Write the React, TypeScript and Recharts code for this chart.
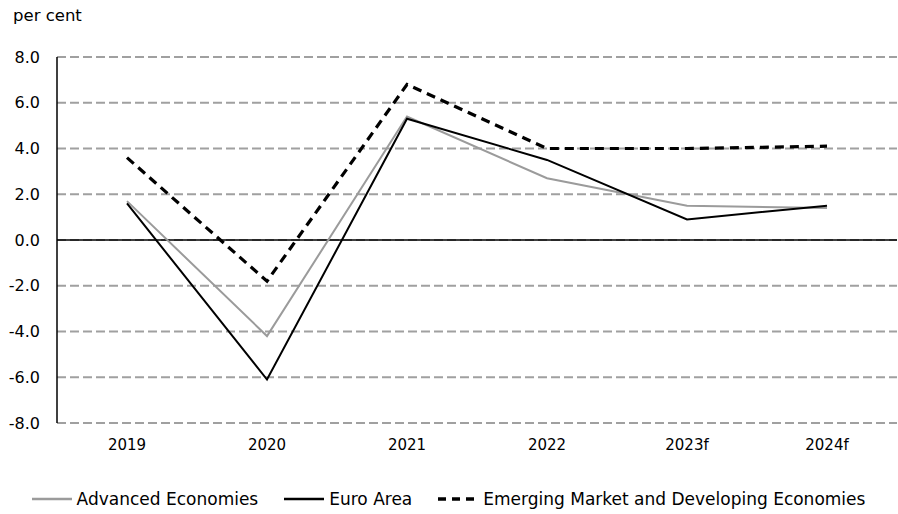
import { LineChart, Line, XAxis, YAxis, CartesianGrid, ReferenceLine, Legend } from "recharts";

const years = ["2019", "2020", "2021", "2022", "2023f", "2024f"];
const advanced = [1.7, -4.2, 5.4, 2.7, 1.5, 1.4];
const euroArea = [1.6, -6.1, 5.3, 3.5, 0.9, 1.5];
const emerging = [3.6, -1.8, 6.8, 4.0, 4.0, 4.1];
const yTicks = [-8, -6, -4, -2, 0, 2, 4, 6, 8];

const SERIES = [
  { key: "advanced", name: "Advanced Economies", color: "#9b9b9b", width: 2, dash: undefined as string | undefined },
  { key: "euro", name: "Euro Area", color: "#000000", width: 2, dash: undefined as string | undefined },
  { key: "emerging", name: "Emerging Market and Developing Economies", color: "#000000", width: 3.2, dash: "9 6" },
];

const data = years.map((year, i) => ({
  year,
  advanced: advanced[i],
  euro: euroArea[i],
  emerging: emerging[i],
}));

const FONT = "'DejaVu Sans', sans-serif";

function LegendBox() {
  return (
    <div style={{ height: 30, display: "flex", justifyContent: "center", alignItems: "center", gap: 26, fontFamily: FONT, fontSize: 17, color: "#000" }}>
      {SERIES.map((s) => (
        <div key={s.key} style={{ display: "flex", alignItems: "center" }}>
          <svg width={40} height={10} style={{ marginRight: 5 }}>
            <line x1={0} y1={5} x2={40} y2={5} stroke={s.color} strokeWidth={s.dash ? 3.5 : 2.5} strokeDasharray={s.dash ? "8 6" : undefined} />
          </svg>
          <span>{s.name}</span>
        </div>
      ))}
    </div>
  );
}

export default function App() {
  return (
    <div style={{ position: "absolute", left: 0, top: 0, width: 898, height: 514, background: "#fff" }}>
      <div style={{ position: "absolute", left: 13, top: 6, fontFamily: FONT, fontSize: 16.5, color: "#000" }}>per cent</div>
      <LineChart width={898} height={514} data={data} margin={{ top: 57, right: 1, left: 0, bottom: 0 }}>
        <CartesianGrid vertical={false} stroke="#a0a0a0" strokeWidth={2} strokeDasharray="9 4" />
        <XAxis
          dataKey="year"
          axisLine={false}
          tickLine={false}
          height={61}
          tickMargin={10}
          padding={{ left: 70, right: 70 }}
          tick={{ fill: "#000", fontSize: 15, fontFamily: FONT }}
        />
        <YAxis
          domain={[-8, 8]}
          ticks={yTicks}
          width={57}
          tickLine={false}
          tickMargin={11}
          axisLine={{ stroke: "#000", strokeWidth: 1.5 }}
          tickFormatter={(v: number) => v.toFixed(1)}
          tick={{ fill: "#000", fontSize: 16, fontFamily: FONT }}
        />
        <ReferenceLine y={0} stroke="#000" strokeWidth={1.5} />
        {SERIES.map((s) => (
          <Line
            key={s.key}
            type="linear"
            dataKey={s.key}
            name={s.name}
            stroke={s.color}
            strokeWidth={s.width}
            strokeDasharray={s.dash}
            dot={false}
            activeDot={false}
            isAnimationActive={false}
          />
        ))}
        <Legend verticalAlign="bottom" content={() => <LegendBox />} />
      </LineChart>
    </div>
  );
}
